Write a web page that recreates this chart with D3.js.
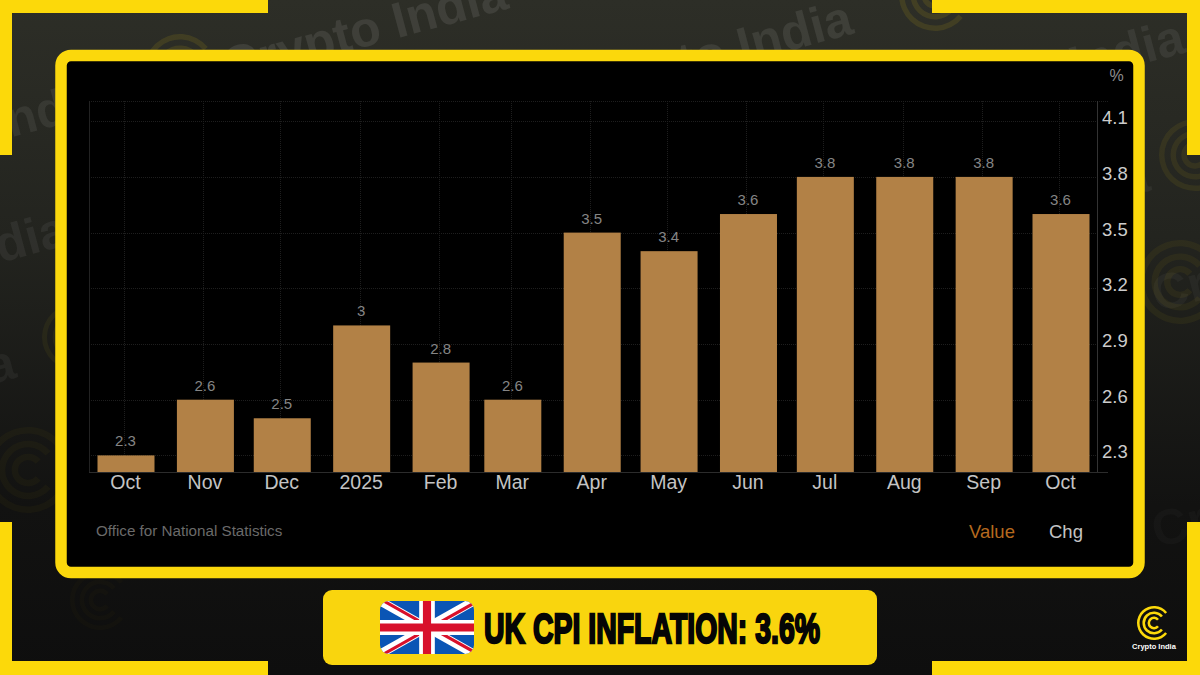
<!DOCTYPE html>
<html>
<head>
<meta charset="utf-8">
<script src="https://cdn.jsdelivr.net/npm/d3@7"></script>
<style>
    html, body { margin: 0; padding: 0; background: #111; }
    svg { display: block; }
    text { font-family: "Liberation Sans", Arial, sans-serif; }
</style>
</head>
<body>
<script>
var months = ["2024-10-01", "2024-11-01", "2024-12-01", "2025-01-01", "2025-02-01", "2025-03-01", "2025-04-01",
    "2025-05-01", "2025-06-01", "2025-07-01", "2025-08-01", "2025-09-01", "2025-10-01"];
var monthLabels = ["Oct", "Nov", "Dec", "2025", "Feb", "Mar", "Apr", "May", "Jun", "Jul", "Aug", "Sep", "Oct"];
var values = [2.3, 2.6, 2.5, 3, 2.8, 2.6, 3.5, 3.4, 3.6, 3.8, 3.8, 3.8, 3.6];
var yTicks = [2.3, 2.6, 2.9, 3.2, 3.5, 3.8, 4.1];

var width = 1200, height = 675;
var parse = d3.utcParse("%Y-%m-%d");
var dates = months.map(parse);

var svg = d3.select("body").append("svg")
    .attr("width", width)
    .attr("height", height);

var defs = svg.append("defs");
var grad = defs.append("linearGradient").attr("id", "bg").attr("x1", 0).attr("x2", 0).attr("y1", 0).attr("y2", 1);
grad.append("stop").attr("offset", "0%").attr("stop-color", "#2d2e27");
grad.append("stop").attr("offset", "35%").attr("stop-color", "#23241f");
grad.append("stop").attr("offset", "75%").attr("stop-color", "#121211");
grad.append("stop").attr("offset", "100%").attr("stop-color", "#0e0e0e");

svg.append("rect").attr("width", width).attr("height", height).attr("fill", "url(#bg)");

// logo made of three broken rings, open to the right
function logo(parent, cx, cy, r, color, opacity) {
    var g = parent.append("g").attr("transform", "translate(" + cx + "," + cy + ")").attr("opacity", opacity);
    var arc = d3.arc().startAngle(Math.PI * 0.72).endAngle(Math.PI * 2.28);
    [1, 0.68, 0.38].forEach(function (k) {
        g.append("path")
            .attr("d", arc({ innerRadius: r * k - r * 0.15, outerRadius: r * k }))
            .attr("fill", color);
    });
}

// watermark behind everything
var marks = svg.append("g");
[[510, 8, "end", "Crypto India", 0.09], [855, 33, "end", "Crypto India", 0.085], [1187, 52, "end", "Crypto India", 0.07],
 [110, 111, "end", "Crypto India", 0.07], [70, 244, "end", "Crypto India", 0.06], [18, 377, "end", "Crypto India", 0.05],
 [1152, 190, "end", "Crypto India", 0.05], [1157, 312, "start", "Crypto India", 0.04], [1157, 548, "start", "Crypto India", 0.025]].forEach(function (d) {
    marks.append("text")
        .attr("transform", "translate(" + d[0] + "," + d[1] + ") rotate(-15)")
        .attr("text-anchor", d[2])
        .attr("font-family", "Inter, 'Open Sans', sans-serif")
        .attr("font-size", 50)
        .attr("font-weight", 800)
        .attr("fill", "#ffffff")
        .attr("fill-opacity", d[4])
        .text(d[3]);
});
[[180, 70, 36, 0.1], [935, -5, 36, 0.1], [1195, 155, 36, 0.07], [1180, 282, 42, 0.05],
 [75, 337, 33, 0.05], [28, 470, 43, 0.03], [100, 600, 30, 0.015]].forEach(function (d) {
    logo(marks, d[0], d[1], d[2], "#f5d60a", d[3]);
});

// yellow corner brackets
var yellow = "#fcd90a";
var corners = [
    [0, 0, 268, 13], [0, 0, 12, 155],
    [932, 0, 268, 13], [1187, 0, 13, 155],
    [0, 661, 268, 14], [0, 522, 12, 153],
    [932, 661, 268, 14], [1187, 522, 13, 153]
];
svg.append("g").selectAll("rect").data(corners).join("rect")
    .attr("x", function (d) { return d[0]; })
    .attr("y", function (d) { return d[1]; })
    .attr("width", function (d) { return d[2]; })
    .attr("height", function (d) { return d[3]; })
    .attr("fill", yellow);

// chart frame
svg.append("rect")
    .attr("x", 61).attr("y", 55.5).attr("width", 1078).attr("height", 517)
    .attr("rx", 10)
    .attr("fill", "#000")
    .attr("stroke", "#fbd80c")
    .attr("stroke-width", 11.5);

var x = d3.scaleUtc()
    .domain([dates[0], dates[dates.length - 1]])
    .range([126, 1061]);

var y = d3.scaleLinear()
    .domain([2.3, 4.1])
    .range([455.4, 121.2]);

var plot = { left: 89, right: 1097, top: 101, bottom: 472, end: 1108 };
var barWidth = 57;

// grid
var grid = svg.append("g")
    .attr("stroke", "#1e1e1e")
    .attr("stroke-width", 1)
    .attr("stroke-dasharray", "1,1");
grid.selectAll(".h").data(yTicks).join("line")
    .attr("class", "h")
    .attr("x1", plot.left).attr("x2", plot.right)
    .attr("y1", function (d) { return Math.round(y(d)) + 0.5; })
    .attr("y2", function (d) { return Math.round(y(d)) + 0.5; });
grid.selectAll(".v").data(dates).join("line")
    .attr("class", "v")
    .attr("x1", function (d) { return Math.round(x(d)) - 1.5; })
    .attr("x2", function (d) { return Math.round(x(d)) - 1.5; })
    .attr("y1", plot.top).attr("y2", plot.bottom);
grid.append("line").attr("x1", plot.left).attr("x2", plot.end).attr("y1", plot.top + 0.5).attr("y2", plot.top + 0.5);

// bars
svg.append("g").selectAll("rect").data(values).join("rect")
    .attr("x", function (d, i) { return x(dates[i]) - barWidth / 2; })
    .attr("y", function (d) { return y(d); })
    .attr("width", barWidth)
    .attr("height", function (d) { return plot.bottom - y(d); })
    .attr("fill", "#b28146");

// value labels
svg.append("g").selectAll("text").data(values).join("text")
    .attr("x", function (d, i) { return x(dates[i]) - 0.5; })
    .attr("y", function (d) { return y(d) - 9; })
    .attr("text-anchor", "middle")
    .attr("font-size", 15)
    .attr("fill", "#858585")
    .text(function (d) { return d; });

// axes
var xAxis = svg.append("g")
    .attr("transform", "translate(-1," + plot.bottom + ")")
    .call(d3.axisBottom(x)
        .tickValues(dates)
        .tickSize(0)
        .tickPadding(3)
        .tickFormat(function (d, i) { return monthLabels[i]; }));
xAxis.select(".domain").remove();
xAxis.selectAll("text").attr("font-size", 19.5).attr("font-family", null).attr("fill", "#c4c4c4");

var yAxis = svg.append("g")
    .attr("transform", "translate(" + plot.right + ",-3.5)")
    .call(d3.axisRight(y)
        .tickValues(yTicks)
        .tickSize(0)
        .tickPadding(5)
        .tickFormat(d3.format(".1f")));
yAxis.select(".domain").remove();
yAxis.selectAll("text").attr("font-size", 18.5).attr("font-family", null).attr("fill", "#cccccc");

svg.append("line").attr("x1", plot.left + 0.5).attr("x2", plot.left + 0.5).attr("y1", plot.top).attr("y2", plot.bottom).attr("stroke", "#222");
svg.append("line").attr("x1", plot.right + 0.5).attr("x2", plot.right + 0.5).attr("y1", plot.top).attr("y2", plot.bottom).attr("stroke", "#333");
svg.append("line").attr("x1", plot.left).attr("x2", plot.end).attr("y1", plot.bottom + 0.5).attr("y2", plot.bottom + 0.5).attr("stroke", "#2c2c2c");

svg.append("text").attr("x", 1116.5).attr("y", 81).attr("text-anchor", "middle").attr("font-size", 16).attr("fill", "#8c8c8c").text("%");
svg.append("text").attr("x", 96).attr("y", 536).attr("font-size", 15.2).attr("fill", "#6a6a6a").text("Office for National Statistics");
svg.append("text").attr("x", 969).attr("y", 538).attr("font-size", 18.5).attr("fill", "#b5691f").text("Value");
svg.append("text").attr("x", 1049).attr("y", 538).attr("font-size", 18.5).attr("fill", "#c4c4c4").text("Chg");

// title pill
svg.append("rect")
    .attr("x", 323).attr("y", 590).attr("width", 554).attr("height", 75)
    .attr("rx", 9)
    .attr("fill", "#f9d50e");

// union jack, 60x30 grid
defs.append("clipPath").attr("id", "flagclip").append("rect")
    .attr("width", 94).attr("height", 53).attr("rx", 9);
var flag = svg.append("g")
    .attr("transform", "translate(380,601)")
    .attr("clip-path", "url(#flagclip)")
    .append("g")
    .attr("transform", "scale(" + (94 / 60) + "," + (53 / 30) + ")");
flag.append("rect").attr("width", 60).attr("height", 30).attr("fill", "#0a55b5");
flag.append("path").attr("d", "M0,0L60,30M60,0L0,30").attr("stroke", "#fff").attr("stroke-width", 5);
flag.append("path").attr("d", "M0,0L30,15M60,30L30,15").attr("stroke", "#d8102b").attr("stroke-width", 1.8)
    .attr("transform", "translate(0.8,-0.8)");
flag.append("path").attr("d", "M60,0L30,15M0,30L30,15").attr("stroke", "#d8102b").attr("stroke-width", 1.8)
    .attr("transform", "translate(0.8,0.8)");
flag.append("path").attr("d", "M30,0V30").attr("stroke", "#fff").attr("stroke-width", 10);
flag.append("path").attr("d", "M0,15H60").attr("stroke", "#fff").attr("stroke-width", 8.5);
flag.append("path").attr("d", "M30,0V30").attr("stroke", "#d8102b").attr("stroke-width", 5.2);
flag.append("path").attr("d", "M0,15H60").attr("stroke", "#d8102b").attr("stroke-width", 4.6);

svg.append("text")
    .attr("x", 484).attr("y", 643)
    .attr("font-family", "'Liberation Sans Narrow', 'Liberation Sans', sans-serif")
    .attr("font-weight", "bold")
    .attr("font-size", 43)
    .attr("textLength", 336)
    .attr("lengthAdjust", "spacingAndGlyphs")
    .attr("fill", "#050505")
    .attr("stroke", "#050505")
    .attr("stroke-width", 2.4)
    .text("UK CPI INFLATION: 3.6%");

// brand in corner
logo(svg, 1154, 623, 17, yellow, 1);
svg.append("text")
    .attr("x", 1154).attr("y", 649)
    .attr("text-anchor", "middle")
    .attr("font-family", "Inter, 'Open Sans', sans-serif")
    .attr("font-size", 7.5)
    .attr("font-weight", 700)
    .attr("fill", "#fff")
    .text("Crypto India");
</script>
</body>
</html>
